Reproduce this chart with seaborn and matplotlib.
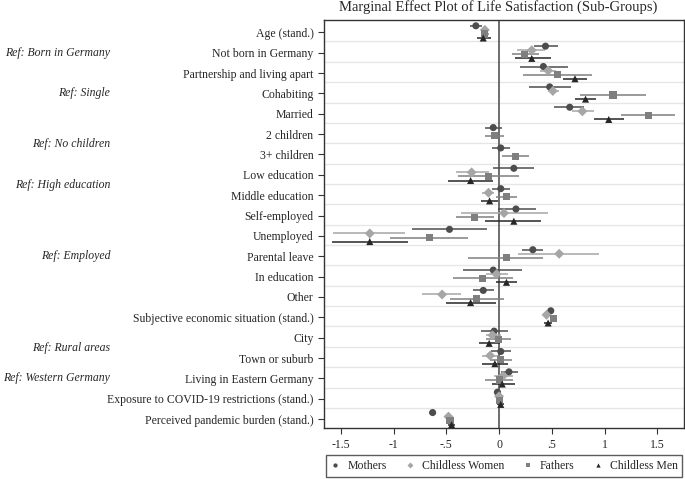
import numpy as np
import pandas as pd
import seaborn as sns
import matplotlib.pyplot as plt
from matplotlib.transforms import blended_transform_factory

# Coefficient labels (top to bottom)
rows = ["Age (stand.)", "Not born in Germany", "Partnership and living apart",
        "Cohabiting", "Married", "2 children", "3+ children", "Low education",
        "Middle education", "Self-employed", "Unemployed", "Parental leave",
        "In education", "Other", "Subjective economic situation (stand.)",
        "City", "Town or suburb", "Living in Eastern Germany",
        "Exposure to COVID-19 restrictions (stand.)",
        "Perceived pandemic burden (stand.)"]

# Reference category notes: (row the note sits on, text)
ref_rows = [1, 3, 5.5, 7.5, 11, 15.5, 17]
ref_text = ["Ref: Born in Germany", "Ref: Single", "Ref: No children",
            "Ref: High education", "Ref: Employed", "Ref: Rural areas",
            "Ref: Western Germany"]

groups = ["Mothers", "Childless Women", "Fathers", "Childless Men"]
nan = np.nan

# point estimates and 95% CI bounds per group
mothers_est = [-0.22, 0.44, 0.42, 0.48, 0.67, -0.055, 0.016, 0.14, 0.016, 0.16,
               -0.47, 0.32, -0.055, -0.15, 0.49, -0.047, 0.016, 0.094, -0.016, -0.63]
mothers_lo = [-0.28, 0.33, 0.20, 0.28, 0.52, -0.13, -0.07, -0.06, -0.07, -0.01,
              -0.83, 0.22, -0.34, -0.25, 0.46, -0.17, -0.08, 0.016, -0.05, -0.66]
mothers_hi = [-0.16, 0.56, 0.65, 0.68, 0.81, 0.03, 0.10, 0.33, 0.10, 0.35,
              -0.11, 0.42, 0.22, -0.05, 0.52, 0.08, 0.11, 0.18, 0.015, -0.60]

cwomen_est = [-0.135, 0.31, 0.465, 0.51, 0.79, nan, nan, -0.26, -0.10, 0.047,
              -1.226, 0.57, -0.025, -0.54, 0.45, -0.063, -0.085, 0.038, 0.0, -0.48]
cwomen_lo = [-0.17, 0.17, 0.39, 0.46, 0.69, nan, nan, -0.41, -0.16, -0.36,
             -1.57, 0.18, -0.12, -0.73, 0.42, -0.12, -0.16, -0.046, -0.03, -0.51]
cwomen_hi = [-0.10, 0.44, 0.54, 0.57, 0.90, nan, nan, -0.10, -0.05, 0.46,
             -0.89, 0.95, 0.08, -0.36, 0.48, 0.016, -0.006, 0.136, 0.03, -0.45]

fathers_est = [-0.135, 0.245, 0.55, 1.08, 1.415, -0.047, 0.157, -0.10, 0.07, -0.23,
               -0.66, 0.07, -0.16, -0.21, 0.52, -0.006, 0.016, 0.0, 0.0, -0.465]
fathers_lo = [-0.17, 0.12, 0.23, 0.77, 1.16, -0.13, 0.03, -0.39, -0.03, -0.41,
              -1.03, -0.29, -0.44, -0.47, 0.49, -0.12, -0.09, -0.13, -0.03, -0.495]
fathers_hi = [-0.10, 0.38, 0.88, 1.39, 1.67, 0.05, 0.28, 0.19, 0.17, -0.05,
              -0.29, 0.42, 0.13, 0.05, 0.55, 0.11, 0.12, 0.136, 0.03, -0.435]

cmen_est = [-0.15, 0.31, 0.72, 0.82, 1.04, nan, nan, -0.27, -0.09, 0.14,
            -1.226, nan, 0.07, -0.27, 0.465, -0.094, -0.04, 0.03, 0.016, -0.45]
cmen_lo = [-0.21, 0.15, 0.61, 0.72, 0.90, nan, nan, -0.48, -0.17, -0.13,
           -1.58, nan, -0.03, -0.50, 0.43, -0.19, -0.16, -0.07, -0.015, -0.48]
cmen_hi = [-0.08, 0.49, 0.83, 0.92, 1.18, nan, nan, -0.06, -0.01, 0.40,
           -0.865, nan, 0.17, -0.03, 0.50, 0.01, 0.08, 0.15, 0.045, -0.42]

xticks = [-1.5, -1, -0.5, 0, 0.5, 1, 1.5]
xticklabels = ["-1.5", "-1", "-.5", "0", ".5", "1", "1.5"]

# long table for seaborn
est = [mothers_est, cwomen_est, fathers_est, cmen_est]
lo = [mothers_lo, cwomen_lo, fathers_lo, cmen_lo]
hi = [mothers_hi, cwomen_hi, fathers_hi, cmen_hi]
offsets = [-0.32, -0.12, 0.08, 0.28]
frames = []
for g, e, l, h, off in zip(groups, est, lo, hi, offsets):
    frames.append(pd.DataFrame({"group": g, "est": e, "lo": l, "hi": h,
                                "y": np.arange(len(rows)) + off}))
df = pd.concat(frames).dropna()

colors = {"Mothers": "#4d4d4d", "Childless Women": "#a6a6a6",
          "Fathers": "#7f7f7f", "Childless Men": "#262626"}
markers = {"Mothers": "o", "Childless Women": "D",
           "Fathers": "s", "Childless Men": "^"}

sns.set_style("ticks")
plt.rcParams["font.family"] = ["Liberation Serif", "DejaVu Serif"]

fig = plt.figure(figsize=(6.85, 4.79), dpi=100)
ax = fig.add_axes([0.473, 0.106, 0.525, 0.852])

# light separators between coefficient rows
for i in range(len(rows) - 1):
    ax.axhline(i + 0.45, color="#e6e6e6", lw=1, zorder=0)
ax.axvline(0, color="#555555", lw=1.2, zorder=1)

# confidence intervals
for g in groups:
    sub = df[df["group"] == g]
    ax.hlines(sub["y"], sub["lo"], sub["hi"], color=colors[g], lw=1.1, zorder=2)

sns.scatterplot(data=df, x="est", y="y", hue="group", style="group",
                hue_order=groups, style_order=groups, palette=colors,
                markers=markers, s=26, edgecolor="none", linewidth=0,
                ax=ax, zorder=3)

ax.set_xlim(-1.66, 1.75)
ax.set_ylim(19.45, -0.6)
ax.set_xticks(xticks)
ax.set_xticklabels(xticklabels, fontsize=8.5)
ax.set_yticks(np.arange(len(rows)))
ax.set_yticklabels(rows, fontsize=8.5)
ax.tick_params(axis="both", length=4, width=0.8, color="#333333")
ax.set_xlabel("")
ax.set_ylabel("")
for sp in ax.spines.values():
    sp.set_color("#333333")
    sp.set_linewidth(1)

fig.text(0.727, 0.985, "Marginal Effect Plot of Life Satisfaction (Sub-Groups)",
         ha="center", va="center", fontsize=10.5)

# reference category notes on the far left
trans = blended_transform_factory(fig.transFigure, ax.transData)
for r, t in zip(ref_rows, ref_text):
    ax.text(0.161, r, t, transform=trans, ha="right", va="center",
            fontsize=8.5, style="italic")

sns.move_legend(ax, "center", bbox_to_anchor=(0.736, 0.027),
                bbox_transform=fig.transFigure, ncol=4, title=None,
                frameon=True, fancybox=False, edgecolor="#333333",
                fontsize=8.5, markerscale=0.6, handlelength=0.8,
                handletextpad=0.6, columnspacing=1.6, borderpad=0.4,
                borderaxespad=0)
ax.get_legend().get_frame().set_linewidth(1)

fig.savefig("out.png", dpi=100)
